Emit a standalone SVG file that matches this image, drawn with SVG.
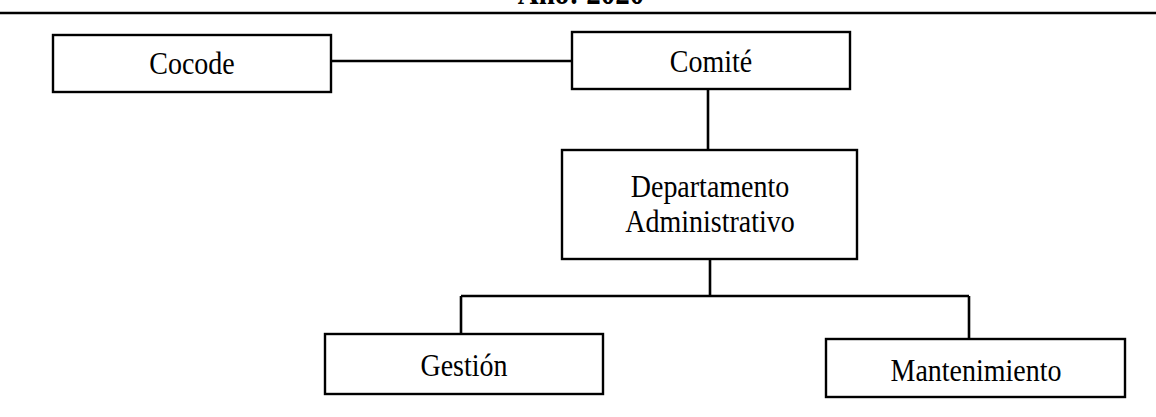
<svg xmlns="http://www.w3.org/2000/svg" width="1156" height="417" viewBox="0 0 1156 417">
<style>
.box{fill:#fff;stroke:#000;stroke-width:2.4}
.lbl{font-family:"Liberation Serif","Times New Roman",serif;font-size:28px;fill:#000;text-anchor:middle}
.hdr{font-family:"Liberation Serif","Times New Roman",serif;font-size:29px;font-weight:bold;fill:#000;text-anchor:middle}
.conn{stroke:#000;stroke-width:2.6;fill:none}
</style>
<rect width="1156" height="417" fill="#fff"/>
<g id="header">
<text class="hdr" transform="translate(581,3.5) scale(1,1.15)">Año: 2020</text>
<line x1="0" y1="13" x2="1156" y2="13" stroke="#000" stroke-width="2.4"/>
</g>
<g id="connectors">
<line class="conn" x1="331" y1="61" x2="572" y2="61" stroke-width="3"/>
<line class="conn" x1="708" y1="89" x2="708" y2="150"/>
<line class="conn" x1="710" y1="259" x2="710" y2="296"/>
<line class="conn" x1="461" y1="296" x2="969" y2="296"/>
<line class="conn" x1="461" y1="296" x2="461" y2="334"/>
<line class="conn" x1="969" y1="296" x2="969" y2="339"/>
</g>
<g id="cocode">
<rect class="box" x="53" y="35" width="278" height="57"/>
<text class="lbl" transform="translate(192,74) scale(1,1.15)">Cocode</text>
</g>
<g id="comite">
<rect class="box" x="572" y="32" width="278" height="57"/>
<text class="lbl" transform="translate(711,72) scale(1,1.15)">Comité</text>
</g>
<g id="departamento">
<rect class="box" x="562" y="150" width="295" height="109"/>
<text class="lbl" transform="translate(710,197) scale(1,1.15)">Departamento</text>
<text class="lbl" transform="translate(710,232) scale(1,1.15)">Administrativo</text>
</g>
<g id="gestion">
<rect class="box" x="325" y="334" width="278" height="60"/>
<text class="lbl" transform="translate(464,376) scale(1,1.15)">Gestión</text>
</g>
<g id="mantenimiento">
<rect class="box" x="826" y="339" width="299" height="58"/>
<text class="lbl" transform="translate(976,381) scale(1,1.15)">Mantenimiento</text>
</g>
</svg>
